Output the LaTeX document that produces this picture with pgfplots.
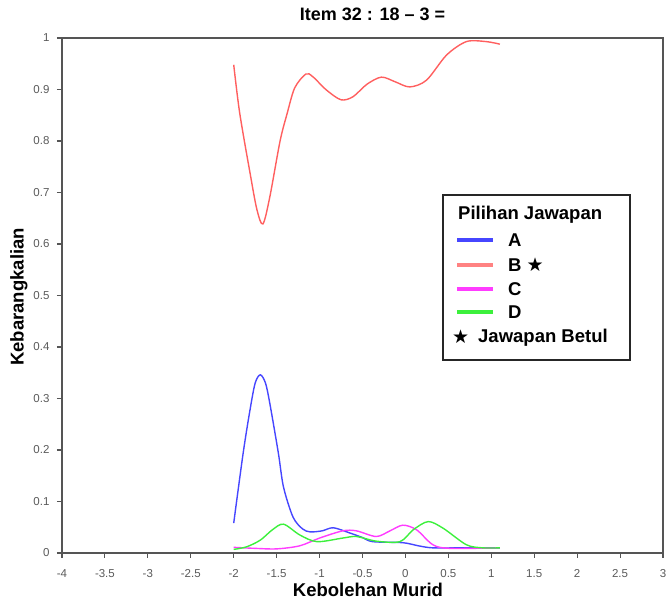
\documentclass[border=0pt]{standalone}
\usepackage{pgfplots}
\pgfplotsset{compat=1.18}
\usepackage{fontspec}
\setmainfont{Liberation Sans}
\newfontfamily\symfont{DejaVu Sans}
\definecolor{cA}{RGB}{70,70,255}
\definecolor{cB}{RGB}{255,95,95}
\definecolor{cBl}{RGB}{255,130,130}
\definecolor{cC}{RGB}{255,60,255}
\definecolor{cD}{RGB}{60,240,60}
\definecolor{axgray}{RGB}{85,85,85}
\definecolor{tickgray}{RGB}{90,90,90}
\begin{document}
\begin{tikzpicture}[x=1pt,y=1pt]
\path[use as bounding box] (-62,-55) rectangle (605,553);
\begin{axis}[
  at={(0,0)}, anchor=south west,
  scale only axis, width=601pt, height=515pt,
  xmin=-4, xmax=3, ymin=0, ymax=1,
  axis line style={axgray, line width=1.3pt},
  xtick={-4,-3.5,...,3},
  xticklabels={-4,-3.5,-3,-2.5,-2,-1.5,-1,-0.5,0,0.5,1,1.5,2,2.5,3},
  ytick={0,0.1,...,1},
  yticklabels={0,0.1,0.2,0.3,0.4,0.5,0.6,0.7,0.8,0.9,1},
  tick style={axgray, line width=1.1pt},
  major tick length=5pt,
  tick align=outside,
  xtick pos=bottom, ytick pos=left,
  tick label style={font=\fontsize{11.5}{13}\selectfont, text=tickgray},
  xticklabel style={yshift=-8pt},
  yticklabel style={xshift=-4pt},
  /pgf/number format/assume math mode=true,
]
\addplot[cB, line width=1.4pt, smooth, tension=0.5] coordinates {
(-2.0,0.948) (-1.93,0.854) (-1.81,0.738) (-1.73,0.667) (-1.66,0.639) (-1.58,0.691)
(-1.46,0.800) (-1.38,0.852) (-1.29,0.903) (-1.16,0.930) (-1.08,0.925) (-0.92,0.899)
(-0.75,0.880) (-0.61,0.886) (-0.45,0.910) (-0.28,0.924) (-0.12,0.915) (0.05,0.905)
(0.245,0.918) (0.48,0.967) (0.71,0.993) (0.94,0.993) (1.10,0.988)};
\addplot[cA, line width=1.4pt, smooth, tension=0.5] coordinates {
(-2.0,0.058) (-1.89,0.194) (-1.81,0.278) (-1.75,0.330) (-1.69,0.346) (-1.63,0.330)
(-1.58,0.291) (-1.48,0.194) (-1.42,0.128) (-1.31,0.070) (-1.20,0.047) (-1.11,0.041)
(-0.97,0.043) (-0.84,0.049) (-0.65,0.039) (-0.50,0.030) (-0.38,0.022) (-0.03,0.020)
(0.15,0.014) (0.32,0.010) (0.70,0.010) (1.10,0.010)};
\addplot[cC, line width=1.4pt, smooth, tension=0.5] coordinates {
(-2.0,0.011) (-1.75,0.009) (-1.50,0.008) (-1.23,0.014) (-1.00,0.029) (-0.73,0.043)
(-0.57,0.043) (-0.34,0.032) (-0.18,0.043) (-0.03,0.054) (0.13,0.045) (0.32,0.016)
(0.52,0.009) (1.10,0.010)};
\addplot[cD, line width=1.4pt, smooth, tension=0.5] coordinates {
(-2.0,0.007) (-1.85,0.012) (-1.69,0.025) (-1.55,0.045) (-1.42,0.056) (-1.23,0.035)
(-1.03,0.022) (-0.73,0.029) (-0.57,0.032) (-0.34,0.023) (-0.065,0.022) (0.09,0.045)
(0.265,0.061) (0.44,0.048) (0.71,0.016) (0.90,0.010) (1.10,0.010)};
\end{axis}
% title and axis labels
\node[font=\fontsize{18}{20}\selectfont\bfseries] at (310.5,539) {Item 32 : 18 – 3 =};
\node[font=\fontsize{18.5}{20}\selectfont\bfseries] at (306,-37) {Kebolehan Murid};
\node[font=\fontsize{18.5}{20}\selectfont\bfseries, rotate=90] at (-43,256) {Kebarangkalian};
% legend
\draw[black!85, line width=1.2pt, fill=white] (381,358) rectangle (568,193);
\node[anchor=west, font=\fontsize{18.5}{20}\selectfont\bfseries, inner sep=0pt] at (396,338) {Pilihan Jawapan};
\draw[cA, line width=3.2pt] (395,313) -- (431,313);
\draw[cBl, line width=3.2pt] (395,288) -- (431,288);
\draw[cC, line width=3.2pt] (395,264) -- (431,264);
\draw[cD, line width=3.2pt] (395,241) -- (431,241);
\node[anchor=west, font=\fontsize{18.5}{20}\selectfont\bfseries, inner sep=0pt] at (446,313) {A};
\node[anchor=west, font=\fontsize{18.5}{20}\selectfont\bfseries, inner sep=0pt] at (446,288) {B {\symfont\fontsize{19}{20}\selectfont ★}};
\node[anchor=west, font=\fontsize{18.5}{20}\selectfont\bfseries, inner sep=0pt] at (446,264) {C};
\node[anchor=west, font=\fontsize{18.5}{20}\selectfont\bfseries, inner sep=0pt] at (446,241) {D};
\node[anchor=west, font=\fontsize{19}{20}\selectfont\symfont, inner sep=0pt] at (390,216) {★};
\node[anchor=west, font=\fontsize{18.5}{20}\selectfont\bfseries, inner sep=0pt] at (416,215) {Jawapan Betul};
\end{tikzpicture}
\end{document}
